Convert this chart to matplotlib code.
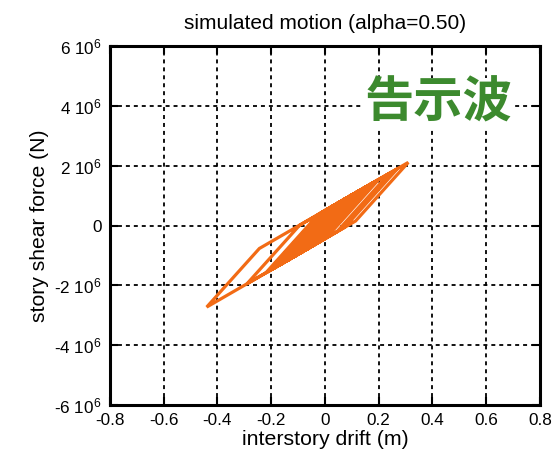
import matplotlib
matplotlib.use("Agg")
import matplotlib.pyplot as plt

plt.rcParams['font.family'] = ['Liberation Sans', 'DejaVu Sans']
plt.rcParams['mathtext.fontset'] = 'custom'
plt.rcParams['mathtext.rm'] = 'Liberation Sans'
plt.rcParams['mathtext.it'] = 'Liberation Sans'

# hysteresis path: interstory drift (m) and story shear force (x1e6 N)
drift = [0.0, 0.10, -0.092, -0.12, 0.076, 0.13, -0.066, -0.15, 0.046, 0.16,
         -0.036, -0.19, 0.006, 0.20, 0.004, -0.22, -0.024, 0.24, 0.044, -0.29,
         -0.094, 0.31, 0.114, -0.44, -0.244, 0.27, 0.074, -0.21, -0.014, 0.19,
         -0.006, -0.20, -0.004, 0.18, -0.016, -0.18, 0.016, 0.17, -0.026, -0.17,
         0.026, 0.15, -0.046, -0.16, 0.036, 0.14, -0.056, -0.14, 0.056, 0.12,
         -0.076, -0.13, 0.066, 0.11, -0.086, -0.10, 0.05, -0.03]
force_e6 = [0.0, 1.00, -0.917, -1.064, 0.896, 1.176, -0.784, -1.22, 0.74, 1.332,
            -0.628, -1.428, 0.532, 1.54, -0.42, -1.584, 0.376, 1.748, -0.212, -1.948,
            0.012, 2.112, 0.152, -2.728, -0.768, 1.904, -0.056, -1.532, 0.428, 1.488,
            -0.472, -1.48, 0.48, 1.436, -0.524, -1.376, 0.584, 1.384, -0.576, -1.324,
            0.636, 1.28, -0.68, -1.272, 0.688, 1.228, -0.732, -1.168, 0.792, 1.124,
            -0.836, -1.116, 0.844, 1.072, -0.888, -0.96, 0.54, -0.26]

x_ticks = [-0.8, -0.6, -0.4, -0.2, 0, 0.2, 0.4, 0.6, 0.8]
x_tick_labels = ['-0.8', '-0.6', '-0.4', '-0.2', '0', '0.2', '0.4', '0.6', '0.8']
y_ticks_e6 = [-6, -4, -2, 0, 2, 4, 6]
y_tick_labels = ['-6 10$^{6}$', '-4 10$^{6}$', '-2 10$^{6}$', '0',
                 '2 10$^{6}$', '4 10$^{6}$', '6 10$^{6}$']

fig = plt.figure(figsize=(5.55, 4.57), dpi=100)
ax = fig.add_axes([0.198, 0.114, 0.775, 0.785])

force = [f * 1e6 for f in force_e6]
ax.plot(drift, force, color='#f26b15', lw=2.3, solid_joinstyle='miter', zorder=3)

ax.set_xlim(-0.8, 0.8)
ax.set_ylim(-6e6, 6e6)
ax.set_xticks(x_ticks)
ax.set_xticklabels(x_tick_labels)
ax.set_yticks([v * 1e6 for v in y_ticks_e6])
ax.set_yticklabels(y_tick_labels)

ax.grid(True, color='black', linestyle=(0, (2.2, 2.2)), linewidth=1.3)
ax.set_axisbelow(True)
for s in ax.spines.values():
    s.set_linewidth(2.2)
ax.tick_params(direction='in', length=6, width=1.5, labelsize=12.3,
               top=True, right=True, pad=6)

ax.set_xlabel('interstory drift (m)', fontsize=15.3, labelpad=1)
ax.set_ylabel('story shear force (N)', fontsize=15.2, labelpad=4)
ax.set_title('simulated motion (alpha=0.50)', fontsize=15, pad=12)

ax.text(0.42, 4.1e6, '告示波', family=['Noto Sans CJK JP', 'DejaVu Sans'],
        fontsize=35.5, fontweight='bold', color='#3c8a2e',
        ha='center', va='center', zorder=4,
        bbox=dict(facecolor='white', edgecolor='none', pad=0))

fig.savefig('out.png', dpi=100)
